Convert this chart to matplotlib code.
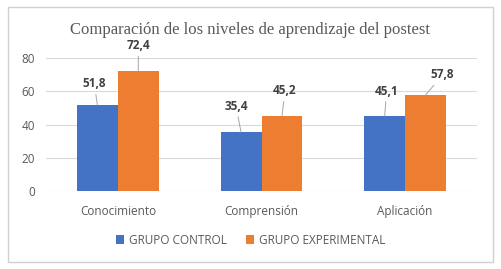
import numpy as np
import matplotlib.pyplot as plt
from matplotlib.patches import Rectangle

categories = ["Conocimiento", "Comprensión", "Aplicación"]
control = [51.8, 35.4, 45.1]
experimental = [72.4, 45.2, 57.8]
series_names = ["GRUPO CONTROL", "GRUPO EXPERIMENTAL"]
yticks = [0, 20, 40, 60, 80]

# label offsets in pixels (dx, dy) relative to bar top
control_offsets = [(-3, 21), (-5, 26), (2, 25)]
experimental_offsets = [(0, 25), (3, 25), (17, 20)]

blue = "#4472C4"
orange = "#ED7D31"
text_gray = "#595959"

plt.rcParams["font.family"] = ["Open Sans", "DejaVu Sans"]

fig = plt.figure(figsize=(5.01, 2.69), dpi=100)
fig.patch.set_facecolor("white")
fig.patches.append(Rectangle((8 / 501, 7 / 269), 485 / 501, 255 / 269,
                             transform=fig.transFigure, fill=False,
                             edgecolor="#D0D0D0", linewidth=1))

ax = fig.add_axes([46 / 501, 1 - 191 / 269, 431 / 501, 133 / 269])
x = np.arange(len(categories))
w = 0.285
b1 = ax.bar(x - w / 2, control, w, color=blue, zorder=3, label=series_names[0])
b2 = ax.bar(x + w / 2, experimental, w, color=orange, zorder=3, label=series_names[1])

ax.set_xlim(-0.5, len(categories) - 0.5)
ax.set_ylim(0, 80)
ax.set_yticks(yticks)
ax.set_xticks(x)
ax.set_xticklabels(categories)
ax.grid(axis="y", color="#D9D9D9", linewidth=0.8, zorder=0)
for s in ax.spines.values():
    s.set_visible(False)
ax.tick_params(length=0, colors=text_gray, labelsize=8.5)
ax.tick_params(axis="x", pad=10)
ax.tick_params(axis="y", pad=8)

for bars, vals, offs in [(b1, control, control_offsets), (b2, experimental, experimental_offsets)]:
    for bar, v, (dx, dy) in zip(bars, vals, offs):
        ax.annotate(f"{v:.1f}".replace(".", ","),
                    xy=(bar.get_x() + bar.get_width() / 2, v),
                    xytext=(dx, dy), textcoords="offset pixels",
                    ha="center", va="center", fontsize=8.5, fontweight="bold",
                    color="#404040", annotation_clip=False,
                    arrowprops=dict(arrowstyle="-", color="#A6A6A6", lw=0.7,
                                    shrinkA=1, shrinkB=0))

fig.text(0.5, 1 - 30 / 269, "Comparación de los niveles de aprendizaje del postest",
         ha="center", va="center", fontsize=12, color=text_gray,
         family=["Liberation Serif", "DejaVu Serif"])

fig.legend(handles=[b1, b2], labels=series_names, loc="center",
           bbox_to_anchor=(0.5, 1 - 240 / 269), ncol=2, frameon=False,
           fontsize=8.5, handlelength=0.7, handleheight=0.7,
           handletextpad=0.4, columnspacing=1.6, labelcolor=text_gray)

fig.savefig("out.png", dpi=100)
